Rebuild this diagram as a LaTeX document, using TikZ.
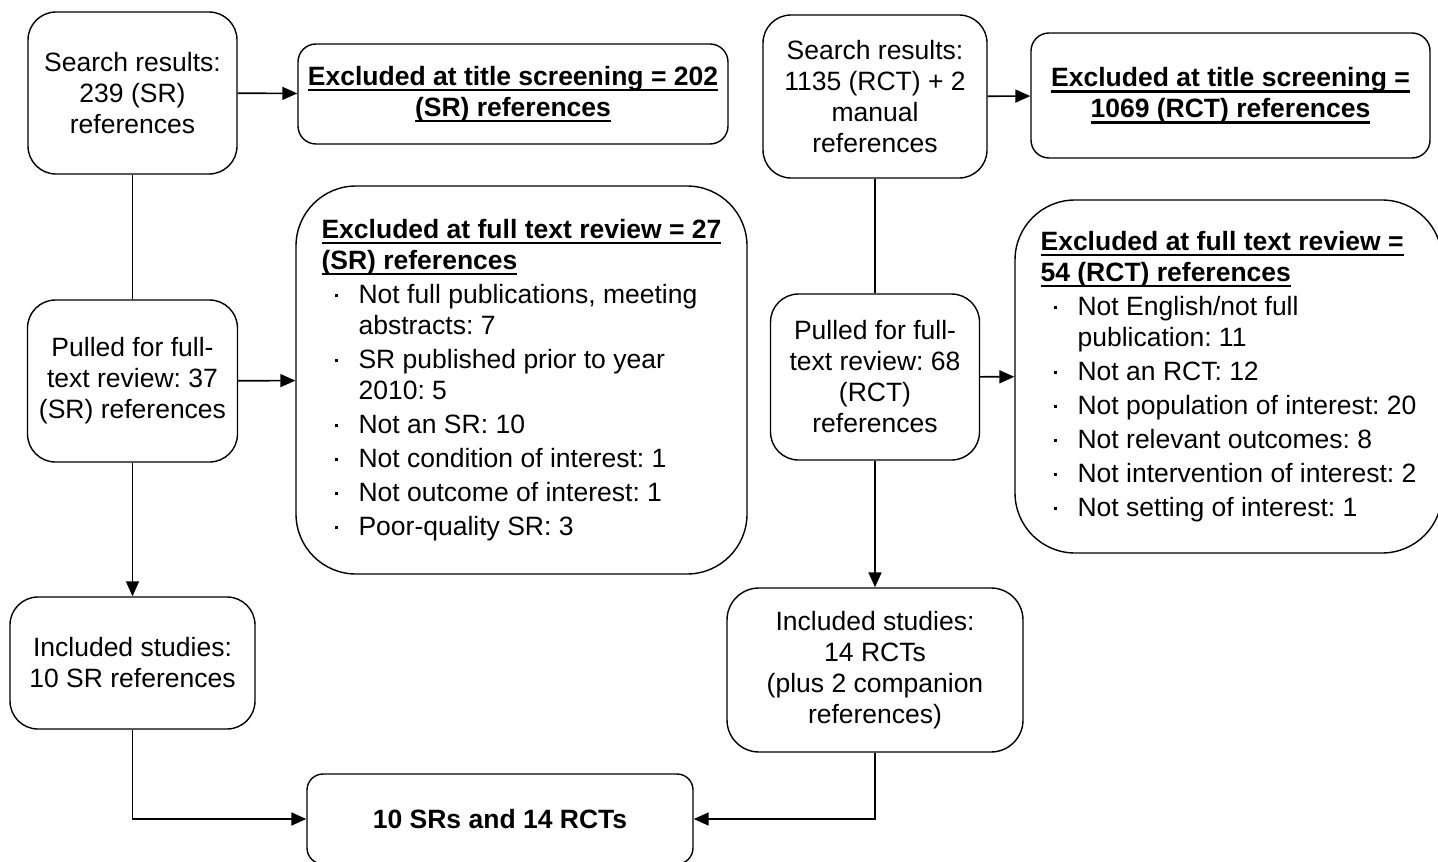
\documentclass[tikz,border=0pt]{standalone}
\usepackage{fontspec}
\setmainfont{Liberation Sans}
\frenchspacing
\usetikzlibrary{positioning,arrows.meta}
\tikzset{
  flowbox/.style={draw, line width=0.7pt, rounded corners=14pt, align=center,
    inner sep=2pt, font=\fontsize{13.25}{15.5}\selectfont},
  listbox/.style={flowbox, align=left, rounded corners=30pt},
  arr/.style={line width=0.85pt, -{Triangle[length=7.5pt,width=6.5pt]}},
  link/.style={line width=0.85pt}
}
% bold underlined heading line
\newcommand{\ulbf}[1]{\textbf{\setbox0\hbox{#1}\rlap{\rule[-3pt]{\wd0}{1.1pt}}\box0}}
% list bullet and continuation indent
\newcommand{\bulitem}{\hspace*{6.5pt}\makebox[12pt][l]{\rule[3pt]{1.5pt}{1.5pt}}}
\newcommand{\bulcont}{\hspace*{18.5pt}}

\begin{document}
\begin{tikzpicture}[x=0.5pt,y=-0.5pt]
\useasboundingbox (0,0) rectangle (1438,861);

% SR column
\node[flowbox, minimum width=104.5pt, minimum height=81pt] (srsearch) at (132.5,93)
  {Search results:\\239 (SR)\\references};
\node[flowbox, rounded corners=9pt, minimum width=215pt, minimum height=50pt] (srtitle) at (513,94)
  {\ulbf{Excluded at title screening = 202}\\\ulbf{(SR) references}};
\node[flowbox, minimum width=105pt, minimum height=81pt] (srpulled) at (132.5,381)
  {Pulled for full-\\text review: 37\\(SR) references};
\node[listbox, minimum width=225.5pt, minimum height=194pt] (srfull) at (521.5,380)
  {\ulbf{Excluded at full text review = 27}\\
   \ulbf{(SR) references}\\[1.5pt]
   \bulitem Not full publications, meeting\\
   \bulcont abstracts: 7\\[1.5pt]
   \bulitem SR published prior to year\\
   \bulcont 2010: 5\\[1.5pt]
   \bulitem Not an SR: 10\\[1.5pt]
   \bulitem Not condition of interest: 1\\[1.5pt]
   \bulitem Not outcome of interest: 1\\[1.5pt]
   \bulitem Poor-quality SR: 3};
\node[flowbox, minimum width=122.5pt, minimum height=66pt] (srincl) at (132.5,663)
  {Included studies:\\10 SR references};

% RCT column
\node[flowbox, minimum width=112pt, minimum height=81.5pt] (rctsearch) at (875,96.5)
  {Search results:\\1135 (RCT) + 2\\manual\\references};
\node[flowbox, rounded corners=9pt, minimum width=199.5pt, minimum height=62.5pt] (rcttitle) at (1230.5,95.5)
  {\ulbf{Excluded at title screening =}\\\ulbf{1069 (RCT) references}};
\node[flowbox, minimum width=104.5pt, minimum height=83pt] (rctpulled) at (875,377)
  {Pulled for full-\\text review: 68\\(RCT)\\references};
\node[listbox, minimum width=213.5pt, minimum height=176.5pt] (rctfull) at (1228.5,376.5)
  {\ulbf{Excluded at full text review =}\\
   \ulbf{54 (RCT) references}\\[1.5pt]
   \bulitem Not English/not full\\
   \bulcont publication: 11\\[1.5pt]
   \bulitem Not an RCT: 12\\[1.5pt]
   \bulitem Not population of interest: 20\\[1.5pt]
   \bulitem Not relevant outcomes: 8\\[1.5pt]
   \bulitem Not intervention of interest: 2\\[1.5pt]
   \bulitem Not setting of interest: 1};
\node[flowbox, rounded corners=16pt, minimum width=148pt, minimum height=82pt] (rctincl) at (875,670)
  {Included studies:\\14 RCTs\\(plus 2 companion\\references)};

% combined result
\node[flowbox, rounded corners=8pt, minimum width=193pt, minimum height=45pt] (total) at (500,819)
  {\textbf{10 SRs and 14 RCTs}};

% connectors
\draw[arr] (srsearch) -- (srtitle);
\draw[link] (srsearch) -- (srpulled);
\draw[arr] (srpulled) -- (srfull);
\draw[arr] (srpulled) -- (srincl);
\draw[arr] (srincl.south) |- (total.west);

\draw[arr] (rctsearch) -- (rcttitle);
\draw[link] (rctsearch) -- (rctpulled);
\draw[arr] (rctpulled) -- (rctfull);
\draw[arr] (rctpulled) -- (rctincl);
\draw[arr] (rctincl.south) |- (total.east);
\end{tikzpicture}
\end{document}
